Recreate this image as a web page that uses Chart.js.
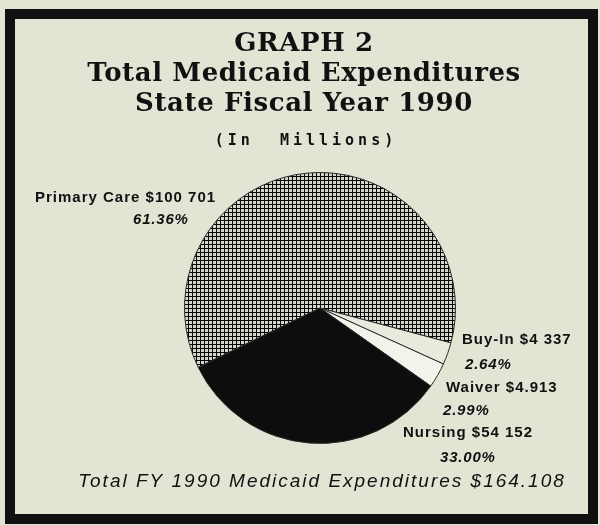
<!DOCTYPE html>
<html>
<head>
<meta charset="utf-8">
<script src="https://cdn.jsdelivr.net/npm/chart.js@4"></script>
<style>
html, body { margin: 0; padding: 0; background: #e2e4d4; }
#wrap { position: relative; width: 600px; height: 525px; overflow: hidden; }
#pie { position: absolute; left: 0; top: 0; }
#frame { position: absolute; left: 5px; top: 9px; width: 573px; height: 495px; border: 10px solid #111; pointer-events: none; }
</style>
</head>
<body>
<div id="wrap">
  <canvas id="pie" width="600" height="525"></canvas>
  <div id="frame"></div>
</div>
<script>
// data (millions)
const categories = ['Primary Care', 'Buy-In', 'Waiver', 'Nursing'];
const amounts = ['$100 701', '$4 337', '$4.913', '$54 152'];
const shares = [61.36, 2.64, 2.99, 33.00];
const titleLines = ['GRAPH 2', 'Total Medicaid Expenditures', 'State Fiscal Year 1990'];
const unitsNote = '(In  Millions)';
const totalNote = 'Total FY 1990 Medicaid Expenditures $164.108';

// where the slice labels sit (name line, then percent line)
const labelSpots = [
    { x: 35, y: 198, px: 133, py: 220 },
    { x: 462, y: 340, px: 465, py: 365 },
    { x: 446, y: 388, px: 443, py: 411 },
    { x: 403, y: 433, px: 440, py: 458 }
];

const ctx = document.getElementById('pie').getContext('2d');

// crosshatch fill like the old printer pattern
function hatch(size, bg, fg) {
    const c = document.createElement('canvas');
    c.width = size; c.height = size;
    const g = c.getContext('2d');
    g.fillStyle = bg; g.fillRect(0, 0, size, size);
    g.fillStyle = fg;
    g.fillRect(0, 0, size, 1);
    g.fillRect(0, 0, 1, size);
    return ctx.createPattern(c, 'repeat');
}

const textPlugin = {
    id: 'texts',
    afterDraw(chart) {
        const c = chart.ctx;
        c.save();
        c.fillStyle = '#111';

        // title
        c.textAlign = 'center';
        c.textBaseline = 'alphabetic';
        c.font = 'bold 26px "DejaVu Serif"';
        c.letterSpacing = '0.6px';
        const baselines = [51, 81, 111];
        titleLines.forEach((t, i) => c.fillText(t, 304, baselines[i]));

        c.font = 'bold 15px "DejaVu Sans Mono"';
        c.letterSpacing = '4px';
        c.fillText(unitsNote, 306, 145);

        // slice labels
        c.textAlign = 'left';
        c.textBaseline = 'middle';
        categories.forEach((name, i) => {
            const s = labelSpots[i];
            c.letterSpacing = '1px';
            c.font = 'bold 15px "Liberation Sans"';
            c.fillText(name + ' ' + amounts[i], s.x, s.y);
            c.letterSpacing = '0.8px';
            c.font = 'italic bold 15px "Liberation Sans"';
            c.fillText(shares[i].toFixed(2) + '%', s.px, s.py);
        });

        // footer
        c.textAlign = 'center';
        c.letterSpacing = '2px';
        c.font = 'italic 19px "Liberation Sans"';
        c.fillText(totalNote, 322, 482);
        c.restore();
    }
};

new Chart(ctx, {
    type: 'pie',
    data: {
        labels: categories,
        datasets: [{
            data: shares,
            backgroundColor: [hatch(4, '#d6d7ca', '#050505'), '#e8eadc', '#f2f3ea', '#0d0d0d'],
            borderColor: '#2a2a2a',
            borderWidth: 1
        }]
    },
    options: {
        responsive: false,
        animation: false,
        rotation: 244,
        layout: { padding: { left: 184, right: 144, top: 172, bottom: 81 } },
        plugins: {
            legend: { display: false },
            tooltip: { enabled: false },
            title: { display: false }
        }
    },
    plugins: [textPlugin]
});
</script>
</body>
</html>
